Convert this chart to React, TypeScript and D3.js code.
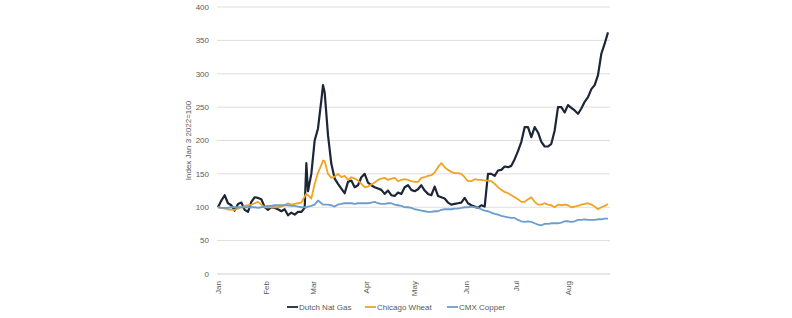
import React, { useRef, useEffect } from 'react';
import * as d3 from 'd3';

// Trading dates sampled through 2022 (index base: Jan 3 2022 = 100)
const dates = [
  '2022-01-03', '2022-01-05', '2022-01-07', '2022-01-09', '2022-01-11', '2022-01-13', '2022-01-15', '2022-01-17',
  '2022-01-19', '2022-01-21', '2022-01-23', '2022-01-25', '2022-01-27', '2022-01-29', '2022-01-31',
  '2022-02-02', '2022-02-04', '2022-02-06', '2022-02-08', '2022-02-10', '2022-02-12', '2022-02-14', '2022-02-16',
  '2022-02-18', '2022-02-20', '2022-02-22', '2022-02-24', '2022-02-25', '2022-02-26', '2022-02-28',
  '2022-03-02', '2022-03-04', '2022-03-06', '2022-03-07', '2022-03-08', '2022-03-10', '2022-03-12', '2022-03-14',
  '2022-03-16', '2022-03-18', '2022-03-20', '2022-03-22', '2022-03-24', '2022-03-26', '2022-03-28', '2022-03-30',
  '2022-04-01', '2022-04-03', '2022-04-05', '2022-04-07', '2022-04-09', '2022-04-11', '2022-04-13', '2022-04-15',
  '2022-04-17', '2022-04-19', '2022-04-21', '2022-04-23', '2022-04-25', '2022-04-27', '2022-04-29',
  '2022-05-01', '2022-05-03', '2022-05-05', '2022-05-07', '2022-05-09', '2022-05-11', '2022-05-13', '2022-05-15',
  '2022-05-17', '2022-05-19', '2022-05-21', '2022-05-23', '2022-05-25', '2022-05-27', '2022-05-29', '2022-05-31',
  '2022-06-02', '2022-06-04', '2022-06-06', '2022-06-08', '2022-06-10', '2022-06-12', '2022-06-14', '2022-06-16',
  '2022-06-18', '2022-06-20', '2022-06-22', '2022-06-24', '2022-06-26', '2022-06-28', '2022-06-30',
  '2022-07-02', '2022-07-04', '2022-07-06', '2022-07-08', '2022-07-10', '2022-07-12', '2022-07-14', '2022-07-16',
  '2022-07-18', '2022-07-20', '2022-07-22', '2022-07-24', '2022-07-26', '2022-07-28', '2022-07-30',
  '2022-08-01', '2022-08-03', '2022-08-05', '2022-08-07', '2022-08-09', '2022-08-11', '2022-08-13', '2022-08-15',
  '2022-08-17', '2022-08-19', '2022-08-21', '2022-08-23', '2022-08-25',
];

const dutchNatGas = [
  100, 110, 118, 106, 103, 95, 105, 107, 96, 93, 108, 115, 114, 112, 100,
  96, 100, 99, 97, 94, 97, 88, 92, 89, 93, 93, 99, 166, 124, 150,
  200, 218, 260, 283, 272, 208, 165, 143, 135, 128, 121, 138, 140, 130, 133, 145,
  150, 137, 133, 130, 128, 126, 120, 125, 118, 117, 122, 120, 130, 133, 126,
  124, 127, 133, 125, 120, 118, 131, 117, 115, 113, 107, 104, 105, 106, 107, 114,
  106, 103, 101, 99, 103, 101, 150, 150, 147, 155, 156, 161, 160, 162, 172,
  184, 198, 220, 220, 205, 220, 212, 198, 191, 191, 195, 215, 250, 250, 242,
  253, 249, 245, 240, 248, 258, 265, 277, 283, 298, 330, 345, 362,
];

const chicagoWheat = [
  100, 99, 98, 97, 96, 96, 98, 100, 102, 103, 104, 106, 108, 104, 100,
  100, 100, 100, 100, 101, 103, 106, 104, 105, 106, 107, 116, 120, 118, 113,
  135, 152, 163, 170, 169, 150, 144, 146, 150, 145, 147, 141, 145, 143, 140, 135,
  130, 131, 134, 137, 141, 143, 144, 141, 143, 144, 139, 141, 142, 141, 139,
  138, 138, 144, 145, 147, 148, 152, 160, 166, 160, 156, 153, 151, 151, 150, 145,
  139, 139, 142, 141, 141, 140, 140, 139, 135, 130, 126, 123, 121, 118, 115,
  112, 108, 108, 112, 115, 108, 104, 104, 106, 104, 103, 100, 104, 103, 104,
  103, 100, 101, 102, 104, 105, 106, 104, 101, 97, 100, 102, 105,
];

const cmxCopper = [
  100, 99, 99, 99, 100, 100, 100, 100, 100, 100, 100, 100, 99, 100, 101,
  102, 102, 103, 103, 103, 103, 103, 102, 102, 101, 100, 100, 100, 101, 102,
  104, 110, 106, 104, 104, 104, 103, 101, 104, 105, 106, 106, 106, 105, 106, 106,
  106, 106, 107, 108, 106, 105, 105, 106, 106, 104, 103, 102, 100, 100, 99,
  97, 96, 95, 94, 93, 93, 94, 94, 96, 97, 97, 97, 98, 98, 99, 100,
  100, 101, 100, 99, 97, 95, 94, 92, 90, 89, 87, 86, 85, 84, 84,
  81, 79, 78, 79, 78, 76, 74, 73, 75, 75, 76, 76, 76, 77, 79,
  79, 78, 79, 81, 81, 82, 81, 81, 81, 82, 82, 83, 83,
];

const monthTicks = ['2022-01-03', '2022-02-01', '2022-03-01', '2022-04-02', '2022-05-01', '2022-06-01', '2022-07-01', '2022-08-01'];
const monthLabels = ['Jan', 'Feb', 'Mar', 'Apr', 'May', 'Jun', 'Jul', 'Aug'];
const yTicks = [0, 50, 100, 150, 200, 250, 300, 350, 400];

const seriesNames = ['Dutch Nat Gas', 'Chicago Wheat', 'CMX Copper'];
const seriesValues = [dutchNatGas, chicagoWheat, cmxCopper];

const colors = ['#1d2636', '#f0a422', '#6c9dcb'];
const widths = [2.2, 1.8, 1.8];
const FONT = '"Liberation Sans", Arial, sans-serif';
const TEXT = '#595959';

const App = () => {
  const svgRef = useRef<SVGSVGElement>(null);

  useEffect(() => {
    const svg = d3.select(svgRef.current);
    svg.selectAll('*').remove();

    const width = 792;
    const height = 318;
    const plot = { left: 218, right: 608, top: 7, bottom: 274 };

    svg.attr('width', width).attr('height', height);
    svg.append('rect').attr('width', width).attr('height', height).attr('fill', '#fff');

    const parse = d3.timeParse('%Y-%m-%d');
    const parsedDates = dates.map(d => parse(d) as Date);

    const xScale = d3
      .scaleTime()
      .domain([parsedDates[0], parsedDates[parsedDates.length - 1]])
      .range([plot.left, plot.right]);

    const yScale = d3.scaleLinear().domain([0, 400]).range([plot.bottom, plot.top]);

    // Horizontal gridlines
    svg
      .append('g')
      .selectAll('line')
      .data(yTicks)
      .enter()
      .append('line')
      .attr('x1', plot.left - 1)
      .attr('x2', plot.right + 2)
      .attr('y1', d => yScale(d))
      .attr('y2', d => yScale(d))
      .attr('stroke', d => (d === 0 ? '#cfcfcf' : '#dedede'))
      .attr('stroke-width', 1);

    // Y tick labels
    svg
      .append('g')
      .selectAll('text')
      .data(yTicks)
      .enter()
      .append('text')
      .attr('x', 209)
      .attr('y', d => yScale(d))
      .attr('dy', '0.35em')
      .attr('text-anchor', 'end')
      .attr('font-family', FONT)
      .attr('font-size', 8)
      .attr('fill', TEXT)
      .text(d => d);

    // Month labels, rotated
    svg
      .append('g')
      .selectAll('text')
      .data(monthTicks)
      .enter()
      .append('text')
      .attr('transform', d => `translate(${xScale(parse(d) as Date)},281) rotate(-90)`)
      .attr('dy', '0.35em')
      .attr('text-anchor', 'end')
      .attr('font-family', FONT)
      .attr('font-size', 8)
      .attr('fill', TEXT)
      .text((d, i) => monthLabels[i]);

    // Y axis title
    svg
      .append('text')
      .attr('transform', `translate(188,${(plot.top + plot.bottom) / 2}) rotate(-90)`)
      .attr('dy', '0.35em')
      .attr('text-anchor', 'middle')
      .attr('font-family', FONT)
      .attr('font-size', 8)
      .attr('fill', TEXT)
      .text('Index Jan 3 2022=100');

    // Lines
    const line = d3
      .line<number>()
      .x((d, i) => xScale(parsedDates[i]))
      .y(d => yScale(d));

    seriesValues.forEach((values, s) => {
      svg
        .append('path')
        .attr('d', line(values) as string)
        .attr('fill', 'none')
        .attr('stroke', colors[s])
        .attr('stroke-width', widths[s])
        .attr('stroke-linejoin', 'round');
    });

    // Legend
    const legendX = [287, 365, 447];
    seriesNames.forEach((name, s) => {
      const row = svg.append('g').attr('transform', `translate(${legendX[s]},307)`);
      row
        .append('line')
        .attr('x1', 0)
        .attr('x2', 11)
        .attr('y1', 0)
        .attr('y2', 0)
        .attr('stroke', colors[s])
        .attr('stroke-width', 1.8);
      row
        .append('text')
        .attr('x', 12)
        .attr('dy', '0.35em')
        .attr('font-family', FONT)
        .attr('font-size', 8)
        .attr('fill', TEXT)
        .text(name);
    });
  }, []);

  return <svg ref={svgRef} style={{ position: 'absolute', left: 0, top: 0, display: 'block' }}></svg>;
};

export default App;
